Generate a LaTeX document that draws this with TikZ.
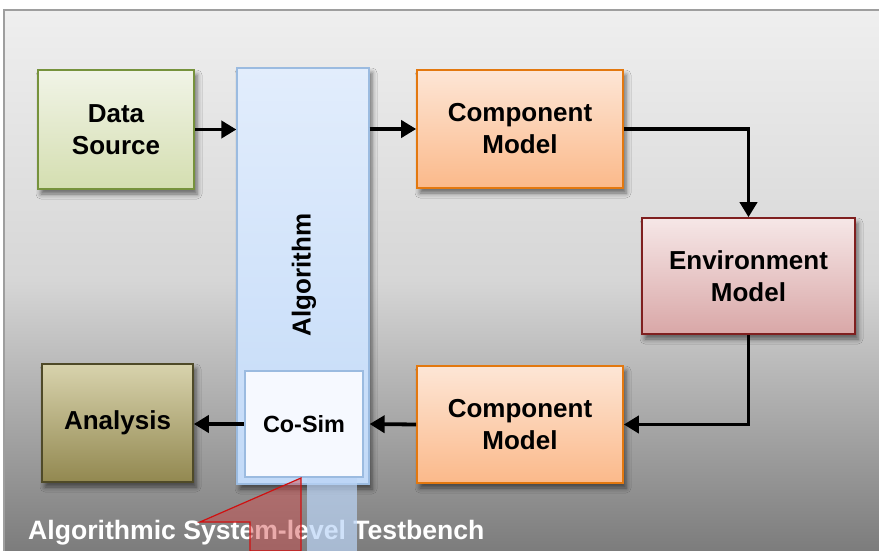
\documentclass[tikz,border=0pt]{standalone}
\usepackage{fontspec}
\setmainfont{Liberation Sans}
\usetikzlibrary{arrows.meta,shadows.blur}

\definecolor{bgtop}{HTML}{EFEFEF}
\definecolor{bgmid}{HTML}{D6D6D6}
\definecolor{bgbot}{HTML}{7C7C7C}
\pgfdeclareverticalshading{bgshade}{100bp}{%
  color(0bp)=(bgbot); color(25bp)=(bgbot); color(50bp)=(bgmid);
  color(75bp)=(bgtop); color(100bp)=(bgtop)}

\definecolor{dsline}{HTML}{76923C}
\definecolor{dstop}{HTML}{F1F4E7}
\definecolor{dsbot}{HTML}{D4DEB0}
\definecolor{alline}{HTML}{9BBBE0}
\definecolor{altop}{HTML}{E2EDFC}
\definecolor{albot}{HTML}{C2DAF8}
\definecolor{csfill}{HTML}{F6F9FF}
\definecolor{cpline}{HTML}{E3780F}
\definecolor{cptop}{HTML}{FDE6D6}
\definecolor{cpbot}{HTML}{FBB98A}
\definecolor{evline}{HTML}{7F1F1F}
\definecolor{evtop}{HTML}{F6E7E7}
\definecolor{evbot}{HTML}{D9A7A7}
\definecolor{anline}{HTML}{4F4A28}
\definecolor{antop}{HTML}{D8D3AD}
\definecolor{anbot}{HTML}{928850}
\definecolor{stripfill}{HTML}{BBD5F7}
\definecolor{calloutline}{HTML}{D01010}
\definecolor{calloutfill}{HTML}{D24646}

\tikzset{
  block/.style={draw, line width=1.6pt, align=center,
    font=\fontsize{26}{32}\selectfont\bfseries,
    blur shadow={shadow xshift=3pt, shadow yshift=-5pt,
      shadow blur radius=5pt, shadow opacity=55}},
  flow/.style={line width=3.8pt,
    -{Triangle[length=15pt,width=17pt]}},
}

\begin{document}
\begin{tikzpicture}[x=1pt,y=-1pt]
  \useasboundingbox (0,0) rectangle (879,551);
  % panel
  \fill[white] (0,0) rectangle (879,551);
  \shade[shading=bgshade] (4,10) rectangle (879,551);
  \draw[line width=1.5pt, black!38] (879,10) -- (4,10) -- (4,551);

  % caption
  \node[anchor=base west, text=white, font=\fontsize{26.6}{31}\selectfont\bfseries,
        inner sep=0pt] (caption) at (28,539) {Algorithmic System-level Testbench};

  % blocks
  \node[block, draw=dsline, top color=dstop, bottom color=dsbot,
        minimum width=156pt, minimum height=119pt] (ds) at (116,129.5) {Data\\Source};
  \node[block, draw=alline, top color=altop, bottom color=albot, line width=1.2pt,
        minimum width=132pt, minimum height=416pt] (alg) at (303,276) {};
  \node[font=\fontsize{26}{32}\selectfont\bfseries, rotate=90] (algtxt) at (304,275) {Algorithm};
  \fill[stripfill, opacity=0.7] (307,477) rectangle (357,551);
  \node[draw=alline, fill=csfill, line width=2pt,
        font=\fontsize{23.4}{28}\selectfont\bfseries,
        minimum width=118pt, minimum height=106pt] (cs) at (304,424) {Co-Sim};
  \node[block, draw=cpline, top color=cptop, bottom color=cpbot,
        minimum width=206pt, minimum height=118pt] (cp1) at (520,129) {Component\\Model};
  \node[block, draw=evline, top color=evtop, bottom color=evbot,
        minimum width=213pt, minimum height=116pt] (ev) at (748.5,276) {Environment\\Model};
  \node[block, draw=cpline, top color=cptop, bottom color=cpbot,
        minimum width=206pt, minimum height=117pt] (cp2) at (520,424.5) {Component\\Model};
  \node[block, draw=anline, top color=antop, bottom color=anbot,
        minimum width=151pt, minimum height=118pt] (an) at (117.5,423) {Analysis};

  % callout pointer
  \filldraw[draw=calloutline, line width=1.2pt, fill=calloutfill, fill opacity=0.45]
    (200,522) -- (301,478) -- (301,551) -- (250,551) -- (250,522) -- cycle;

  % signal flow
  \draw[flow] (ds.east) -- (ds.east -| alg.west);
  \draw[flow] (cp1.west -| alg.east) -- (cp1.west);
  \draw[flow] (cp1.east) -| (ev.north);
  \draw[flow] (ev.south) |- (cp2.east);
  \draw[flow] (cp2.west) -- (cs.west -| alg.east);
  \draw[flow] (cs.west) -- (cs.west -| an.east);
\end{tikzpicture}
\end{document}
